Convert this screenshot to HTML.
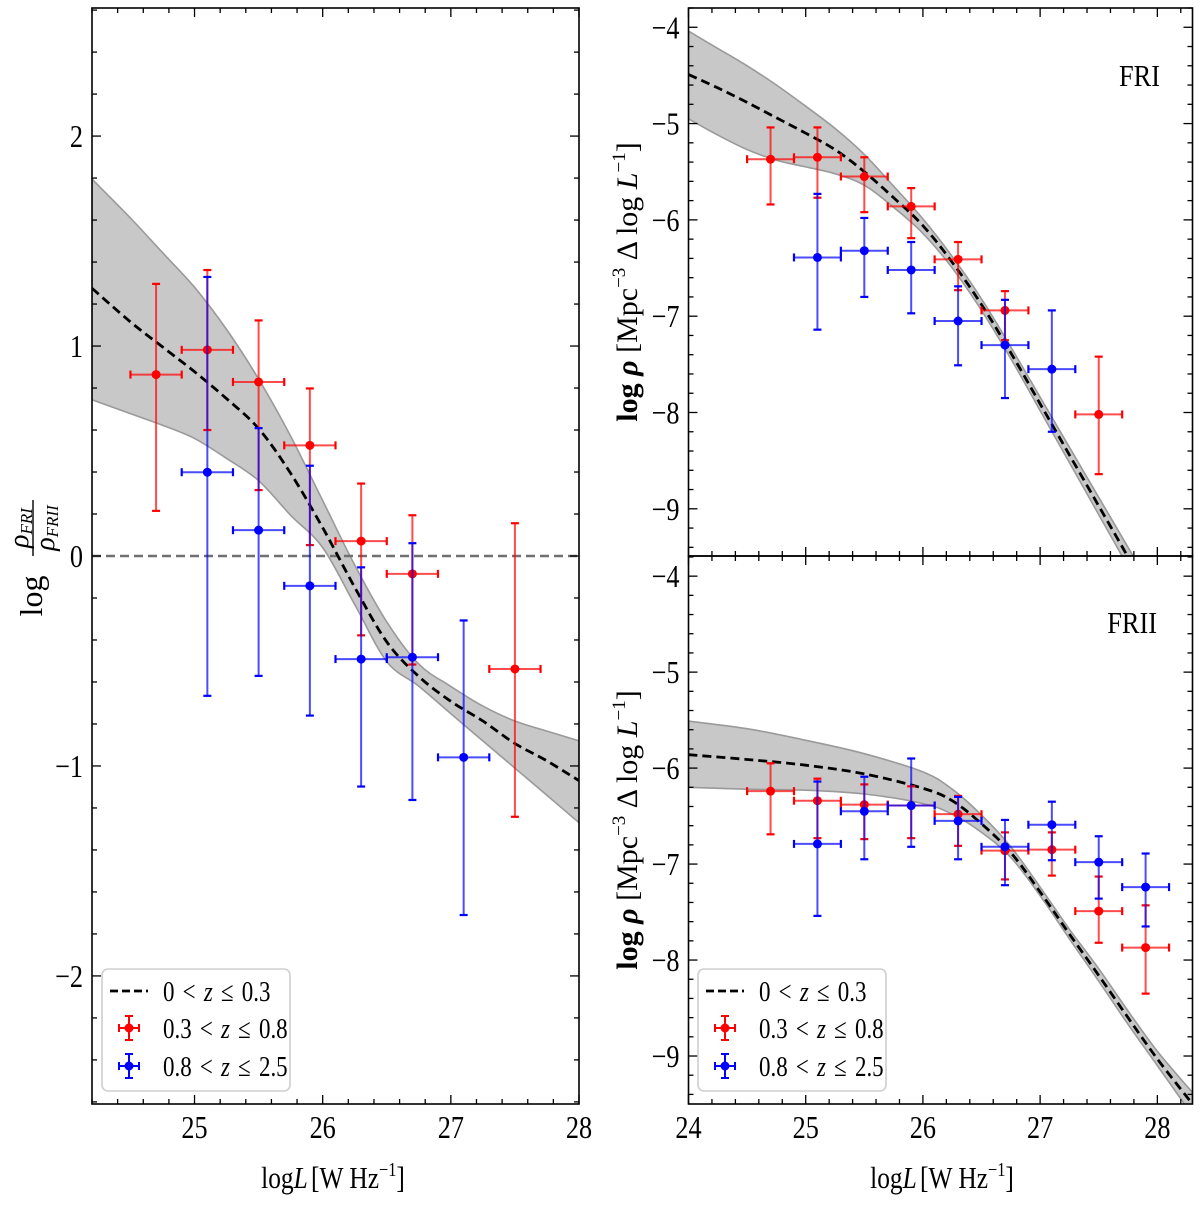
<!DOCTYPE html>
<html><head><meta charset="utf-8"><style>
html,body{margin:0;padding:0;background:#fff;}
svg{display:block;font-family:"Liberation Serif","DejaVu Serif",serif;}
</style></head><body>
<svg id="fig" xmlns="http://www.w3.org/2000/svg" width="1200" height="1205" viewBox="0 0 1200 1205">
<defs>
<clipPath id="clipL"><rect x="92" y="8" width="487" height="1096"/></clipPath>
<clipPath id="clipT"><rect x="688.5" y="8" width="504" height="548"/></clipPath>
<clipPath id="clipB"><rect x="688.5" y="556" width="504" height="548"/></clipPath>
</defs>
<g id="root"></g>
</svg>
<script>
// ---------- data ----------
const redX = [24.7, 25.1, 25.5, 25.9, 26.3, 26.7, 27.5];
const blueX = [25.1, 25.5, 25.9, 26.3, 26.7, 27.1];
// ratio panel
const ratioRed = [0.864, 0.982, 0.829, 0.527, 0.071, -0.085, -0.538];
const ratioRedHi = [1.296, 1.362, 1.122, 0.798, 0.345, 0.194, 0.156];
const ratioRedLo = [0.215, 0.600, 0.314, 0.052, -0.378, -0.517, -1.242];
const ratioBlue = [0.399, 0.123, -0.142, -0.491, -0.482, -0.959];
const ratioBlueHi = [1.329, 0.609, 0.430, -0.054, 0.061, -0.307];
const ratioBlueLo = [-0.666, -0.571, -0.760, -1.098, -1.162, -1.710];
const ratioCurveX = [24.2, 24.5, 24.75, 25.0, 25.25, 25.5, 25.75, 26.0, 26.25, 26.5, 26.75, 27.0, 27.25, 27.5, 27.75, 28.0];
const ratioCurve = [1.275, 1.115, 0.996, 0.878, 0.749, 0.607, 0.394, 0.135, -0.149, -0.409, -0.574, -0.692, -0.786, -0.893, -0.976, -1.07];
const ratioBandHi = [1.795, 1.61, 1.445, 1.28, 1.079, 0.843, 0.571, 0.264, -0.043, -0.314, -0.515, -0.621, -0.715, -0.786, -0.834, -0.88];
const ratioBandLo = [0.744, 0.678, 0.623, 0.560, 0.465, 0.359, 0.194, 0.040, -0.231, -0.503, -0.62, -0.751, -0.881, -1.01, -1.14, -1.27];
// FRI panel
const friRed = [-5.37, -5.35, -5.55, -5.86, -6.41, -6.94, -8.02];
const friRedHi = [-5.04, -5.04, -5.35, -5.67, -6.23, -6.74, -7.42];
const friRedLo = [-5.84, -5.77, -5.92, -6.19, -6.73, -7.25, -8.64];
const friBlue = [-6.39, -6.32, -6.52, -7.05, -7.30, -7.55];
const friBlueHi = [-5.73, -5.98, -6.23, -6.69, -6.83, -6.94];
const friBlueLo = [-7.14, -6.80, -6.97, -7.51, -7.85, -8.20];
const lfCurveX = [24, 24.25, 24.5, 24.75, 25, 25.25, 25.5, 25.75, 26, 26.25, 26.5, 26.75, 27, 27.25, 27.5, 27.75, 28, 28.3];
const friCurve = [-4.49, -4.63, -4.78, -4.94, -5.10, -5.27, -5.50, -5.77, -6.06, -6.44, -6.88, -7.38, -7.91, -8.44, -8.97, -9.50, -10.03, -10.7];
const friBandHi = [-4.04, -4.22, -4.40, -4.60, -4.82, -5.05, -5.32, -5.65, -5.99, -6.38, -6.82, -7.32, -7.84, -8.36, -8.88, -9.40, -9.92, -10.55];
const friBandLo = [-4.95, -5.12, -5.27, -5.38, -5.45, -5.52, -5.64, -5.87, -6.14, -6.50, -6.94, -7.44, -7.98, -8.52, -9.06, -9.60, -10.14, -10.8];
// FRII panel
const friiRedX = [24.7, 25.1, 25.5, 25.9, 26.3, 26.7, 27.1, 27.5, 27.9];
const friiBlueX = [25.1, 25.5, 25.9, 26.3, 26.7, 27.1, 27.5, 27.9];
const friiRed = [-6.24, -6.34, -6.38, -6.39, -6.48, -6.86, -6.85, -7.49, -7.87];
const friiRedHi = [-5.95, -6.11, -6.17, -6.19, -6.29, -6.67, -6.67, -7.13, -7.43];
const friiRedLo = [-6.69, -6.73, -6.74, -6.73, -6.81, -7.16, -7.12, -7.82, -8.35];
const friiBlue = [-6.79, -6.45, -6.39, -6.55, -6.82, -6.59, -6.98, -7.24];
const friiBlueHi = [-6.14, -6.09, -5.90, -6.30, -6.54, -6.35, -6.71, -6.89];
const friiBlueLo = [-7.54, -6.95, -6.82, -6.95, -7.22, -6.96, -7.36, -7.65];
const friiCurveX = [24, 24.5, 25, 25.5, 26, 26.25, 26.5, 26.75, 27, 27.25, 27.5, 27.75, 28, 28.3];
const friiCurve = [-5.86, -5.91, -5.97, -6.06, -6.21, -6.34, -6.58, -6.88, -7.29, -7.73, -8.16, -8.60, -9.03, -9.50];
const friiBandHi = [-5.51, -5.59, -5.71, -5.85, -6.04, -6.22, -6.49, -6.82, -7.24, -7.68, -8.09, -8.53, -8.95, -9.38];
const friiBandLo = [-6.20, -6.22, -6.23, -6.27, -6.37, -6.48, -6.67, -6.93, -7.33, -7.78, -8.22, -8.67, -9.10, -9.62];
const xErr = 0.2;
const ratioYTicks = [-2, -1, 0, 1, 2];
const ratioXTicks = [25, 26, 27, 28];
const lfXTicks = [24, 25, 26, 27, 28];
const lfYTicks = [-9, -8, -7, -6, -5, -4];
const legendLabels = ["0", "0.3", "0.8"];
const legendHigh = ["0.3", "0.8", "2.5"];

// ---------- helpers ----------
const NS = "http://www.w3.org/2000/svg";
const root = document.getElementById("root");
function mk(tag, parent, attrs) {
  const e = document.createElementNS(NS, tag);
  for (const k in attrs) e.setAttribute(k, attrs[k]);
  (parent || root).appendChild(e);
  return e;
}
function makeAxis(x0, x1, px0, px1) { return v => px0 + (v - x0) / (x1 - x0) * (px1 - px0); }

function panel(name, box, xr, yr, clip) {
  const g = mk("g", root, {});
  
  
  const sx = makeAxis(xr[0], xr[1], box.x0, box.x1);
  const sy = makeAxis(yr[0], yr[1], box.y1, box.y0);
  const plot = mk("g", g, {"clip-path": "url(#" + clip + ")"});
  return {g, plot, sx, sy, box, xr, yr};
}
// Catmull-Rom smooth path through points
function smooth(pts, move) {
  let d = (move ? "M" : "L") + pts[0][0].toFixed(1) + "," + pts[0][1].toFixed(1);
  for (let i = 0; i < pts.length - 1; i++) {
    const p0 = pts[Math.max(0, i - 1)], p1 = pts[i], p2 = pts[i + 1], p3 = pts[Math.min(pts.length - 1, i + 2)];
    const c1 = [p1[0] + (p2[0] - p0[0]) / 6, p1[1] + (p2[1] - p0[1]) / 6];
    const c2 = [p2[0] - (p3[0] - p1[0]) / 6, p2[1] - (p3[1] - p1[1]) / 6];
    d += "C" + c1.map(v => v.toFixed(1)).join(",") + " " + c2.map(v => v.toFixed(1)).join(",") + " " + p2.map(v => v.toFixed(1)).join(",");
  }
  return d;
}
function band(p, xs, hi, lo, name) {
  const top = xs.map((x, i) => [p.sx(x), p.sy(hi[i])]);
  const bot = xs.map((x, i) => [p.sx(x), p.sy(lo[i])]).reverse();
  const d = smooth(top, true) + smooth(bot, false) + "Z";
  const e = mk("path", p.plot, {d, fill: "#c8c8c8", stroke: "#9a9a9a", "stroke-width": 1.6});
  
  
}
function curve(p, xs, ys, name) {
  const d = smooth(xs.map((x, i) => [p.sx(x), p.sy(ys[i])]), true);
  const e = mk("path", p.plot, {d, fill: "none", stroke: "#000", "stroke-width": 2.8, "stroke-dasharray": "9,5"});
  
  
}
function errSeries(p, xs, ys, hi, lo, color, name) {
  const g = mk("g", p.plot, {});
  
  
  xs.forEach((x, i) => {
    const pt = mk("g", g, {});
    
    
    const cx = p.sx(x), cy = p.sy(ys[i]);
    const xl = p.sx(x - xErr), xh = p.sx(x + xErr), yh = p.sy(hi[i]), yl = p.sy(lo[i]);
    mk("line", pt, {x1: xl, x2: xh, y1: cy, y2: cy, stroke: color, "stroke-width": 2, "stroke-opacity": 0.7});
    mk("line", pt, {x1: cx, x2: cx, y1: yh, y2: yl, stroke: color, "stroke-width": 2, "stroke-opacity": 0.7});
    mk("line", pt, {x1: xl, x2: xl, y1: cy - 4, y2: cy + 4, stroke: color, "stroke-width": 2.2});
    mk("line", pt, {x1: xh, x2: xh, y1: cy - 4, y2: cy + 4, stroke: color, "stroke-width": 2.2});
    mk("line", pt, {x1: cx - 4, x2: cx + 4, y1: yh, y2: yh, stroke: color, "stroke-width": 2.2});
    mk("line", pt, {x1: cx - 4, x2: cx + 4, y1: yl, y2: yl, stroke: color, "stroke-width": 2.2});
    mk("circle", pt, {cx, cy, r: 4.5, fill: color});
  });
}
function txt(parent, x, y, s, size, anchor, sxs) {
  const t = mk("text", parent, {x: 0, y: 0, "font-size": size, "text-anchor": anchor || "middle",
    transform: "translate(" + x + "," + y + ") scale(" + (sxs || 0.85) + ",1)"});
  t.textContent = s;
  return t;
}
function frameTicks(p, xTicks, yTicks, xLabels, yLabels, name) {
  const b = p.box, g = p.g;
  const fr = mk("rect", g, {x: b.x0, y: b.y0, width: b.x1 - b.x0, height: b.y1 - b.y0, fill: "none", stroke: "#000", "stroke-width": 1.6});
  
  
  const tg = mk("g", g, {stroke: "#000", "stroke-width": 1.3});
  for (let v = Math.ceil(p.xr[0] * 5 - 1e-6) / 5; v <= p.xr[1] + 1e-6; v += 0.2) {
    const X = p.sx(v);
    const major = Math.abs(v - Math.round(v)) < 1e-6;
    const L = major ? 9 : 5;
    mk("line", tg, {x1: X, x2: X, y1: b.y1, y2: b.y1 - L});
    mk("line", tg, {x1: X, x2: X, y1: b.y0, y2: b.y0 + L});
  }
  for (let v = Math.ceil(p.yr[0] * 5 - 1e-6) / 5; v <= p.yr[1] + 1e-6; v += 0.2) {
    const Y = p.sy(v);
    const major = Math.abs(v - Math.round(v)) < 1e-6;
    const L = major ? 9 : 5;
    mk("line", tg, {x1: b.x0, x2: b.x0 + L, y1: Y, y2: Y});
    mk("line", tg, {x1: b.x1, x2: b.x1 - L, y1: Y, y2: Y});
  }
  if (xLabels) {
    const xg = mk("g", g, {});
    
    
    xTicks.forEach(v => txt(xg, p.sx(v), 1138, String(v), 32, "middle", 0.82));
  }
  const yg = mk("g", g, {});
  
  
  yTicks.forEach(v => txt(yg, b.x0 - 9, p.sy(v) + 11, v < 0 ? "\u2212" + Math.abs(v) : String(v), 32, "end", 0.82));
}
function legend(x, y, name) {
  const g = mk("g", root, {});
  
  
  mk("rect", g, {x, y, width: 188, height: 122, rx: 6, fill: "#fff", "fill-opacity": 0.85, stroke: "#cfcfcf", "stroke-width": 1.6});
  const rows = [y + 22, y + 59, y + 97];
  const colors = [null, "#ff0000", "#0000ff"];
  rows.forEach((ry, i) => {
    const e = mk("g", g, {});
    
    
    if (i === 0) {
      mk("line", e, {x1: x + 8, x2: x + 46, y1: ry, y2: ry, stroke: "#000", "stroke-width": 2.8, "stroke-dasharray": "8,4"});
    } else {
      const c = colors[i], cx = x + 27;
      mk("line", e, {x1: cx - 10, x2: cx + 10, y1: ry, y2: ry, stroke: c, "stroke-width": 2});
      mk("line", e, {x1: cx, x2: cx, y1: ry - 12, y2: ry + 12, stroke: c, "stroke-width": 2});
      mk("line", e, {x1: cx - 10, x2: cx - 10, y1: ry - 4, y2: ry + 4, stroke: c, "stroke-width": 2});
      mk("line", e, {x1: cx + 10, x2: cx + 10, y1: ry - 4, y2: ry + 4, stroke: c, "stroke-width": 2});
      mk("line", e, {x1: cx - 4, x2: cx + 4, y1: ry - 12, y2: ry - 12, stroke: c, "stroke-width": 2});
      mk("line", e, {x1: cx - 4, x2: cx + 4, y1: ry + 12, y2: ry + 12, stroke: c, "stroke-width": 2});
      mk("circle", e, {cx, cy: ry, r: 4.5, fill: c});
    }
    const t = mk("text", e, {x: 0, y: 0, "font-size": 28, transform: "translate(" + (x + 61) + "," + (ry + 10) + ") scale(0.82,1)"});
    t.innerHTML = legendLabels[i] + "<tspan dx='10'>&lt;</tspan><tspan dx='10' font-style='italic'>z</tspan><tspan dx='10'>\u2264</tspan><tspan dx='10'>" + legendHigh[i] + "</tspan>";
  });
}

// ---------- left: ratio ----------
const L = panel("ratio-panel", {x0: 92, x1: 579, y0: 8, y1: 1104}, [24.2, 28], [-2.61, 2.61], "clipL");
band(L, ratioCurveX, ratioBandHi, ratioBandLo, "ratio-uncertainty-band");
const zl = mk("line", L.plot, {x1: L.box.x0, x2: L.box.x1, y1: L.sy(0), y2: L.sy(0), stroke: "#707070", "stroke-width": 2.6, "stroke-dasharray": "9,5"});


curve(L, ratioCurveX, ratioCurve, "ratio-model-curve");
errSeries(L, redX, ratioRed, ratioRedHi, ratioRedLo, "#ff0000", "ratio-red-series");
errSeries(L, blueX, ratioBlue, ratioBlueHi, ratioBlueLo, "#0000ff", "ratio-blue-series");
frameTicks(L, ratioXTicks, ratioYTicks, true, true, "ratio");
legend(102, 969, "ratio-legend");

// ---------- top right: FRI ----------
const T = panel("fri-panel", {x0: 688.5, x1: 1192.5, y0: 8, y1: 556}, [24, 28.3], [-9.49, -3.80], "clipT");
band(T, lfCurveX, friBandHi, friBandLo, "fri-uncertainty-band");
curve(T, lfCurveX, friCurve, "fri-model-curve");
errSeries(T, redX, friRed, friRedHi, friRedLo, "#ff0000", "fri-red-series");
errSeries(T, blueX, friBlue, friBlueHi, friBlueLo, "#0000ff", "fri-blue-series");
frameTicks(T, lfXTicks, lfYTicks, false, true, "fri");
const friT = txt(T.g, 1160, 86, "FRI", 31, "end");



// ---------- bottom right: FRII ----------
const B = panel("frii-panel", {x0: 688.5, x1: 1192.5, y0: 556, y1: 1104}, [24, 28.3], [-9.5, -3.79], "clipB");
band(B, friiCurveX, friiBandHi, friiBandLo, "frii-uncertainty-band");
curve(B, friiCurveX, friiCurve, "frii-model-curve");
errSeries(B, friiRedX, friiRed, friiRedHi, friiRedLo, "#ff0000", "frii-red-series");
errSeries(B, friiBlueX, friiBlue, friiBlueHi, friiBlueLo, "#0000ff", "frii-blue-series");
frameTicks(B, lfXTicks, lfYTicks, true, true, "frii");
const friiT = txt(B.g, 1157, 633, "FRII", 31, "end");


legend(698, 969, "frii-legend");

// ---------- axis titles ----------
[[333, "left-x-axis-title"], [942, "right-x-axis-title"]].forEach(([cx, nm]) => {
  const t = mk("text", root, {x: 0, y: 0, "font-size": 31, "text-anchor": "middle", transform: "translate(" + cx + ",1188) scale(0.82,1)"});
  
  
  t.innerHTML = "log<tspan font-style='italic'>L</tspan><tspan dx='4'>[W Hz</tspan><tspan font-size='20' dy='-12'>\u22121</tspan><tspan dy='12'>]</tspan>";
});
// left y title
const ly = mk("g", root, {transform: "translate(42,556) rotate(-90)"});


const lyl = mk("text", ly, {x: -40, y: 0, "font-size": 32, "text-anchor": "middle"});
lyl.textContent = "log";
const lyn = mk("text", ly, {x: 28, y: -14, "font-size": 28, "font-style": "italic", "text-anchor": "middle"});
lyn.innerHTML = "\u03C1<tspan font-size='17' dy='4'>FRI</tspan>";
mk("line", ly, {x1: 0, x2: 56, y1: -9, y2: -9, stroke: "#000", "stroke-width": 1.4});
const lyd = mk("text", ly, {x: 28, y: 12, "font-size": 28, "font-style": "italic", "text-anchor": "middle"});
lyd.innerHTML = "\u03C1<tspan font-size='17' dy='4'>FRII</tspan>";
// right y titles
[[282, "fri-y-axis-title"], [830, "frii-y-axis-title"]].forEach(([cy, nm]) => {
  const t = mk("text", root, {x: 0, y: 0, "font-size": 30, "text-anchor": "middle", transform: "translate(637," + cy + ") rotate(-90)"});
  
  
  t.innerHTML = "<tspan font-weight='bold'>log</tspan> <tspan font-style='italic' font-weight='bold'>\u03C1</tspan> [Mpc<tspan font-size='19' dy='-12'>\u22123</tspan><tspan dy='12'> \u0394 log </tspan><tspan font-style='italic'>L</tspan><tspan font-size='19' dy='-12'>\u22121</tspan><tspan dy='12'>]</tspan>";
});
</script>
</body></html>
